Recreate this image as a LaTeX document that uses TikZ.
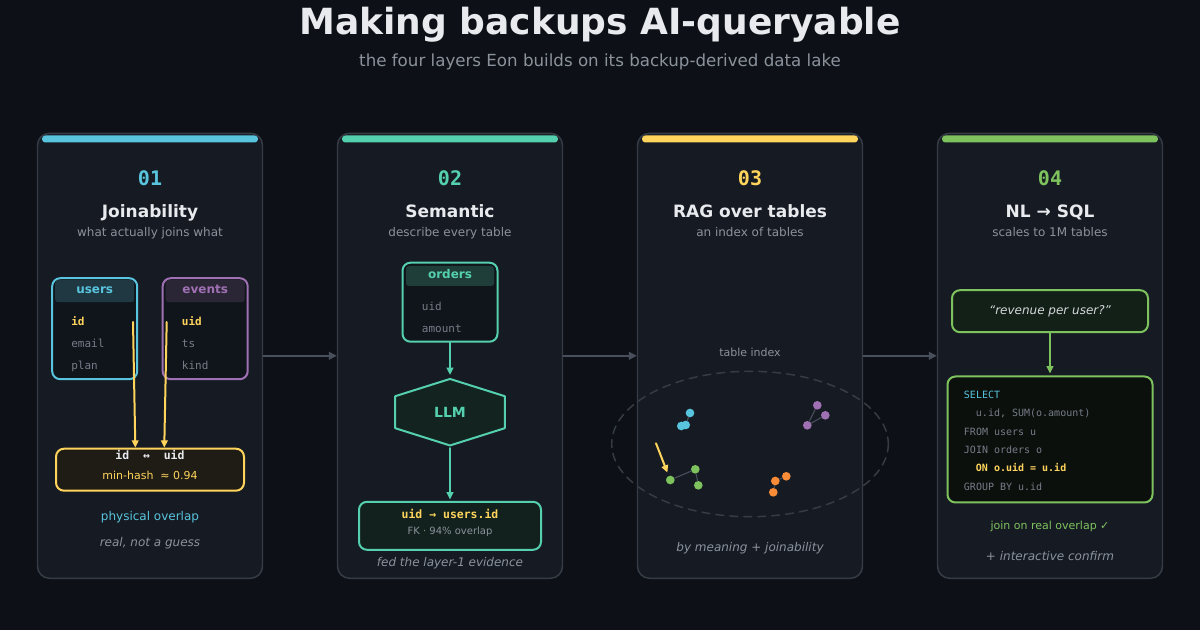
\documentclass[tikz,border=0pt]{standalone}
\usepackage{fontspec}
\setmainfont{DejaVu Sans}
\setmonofont{DejaVu Sans Mono}
\usetikzlibrary{arrows.meta}
\definecolor{bgdark}{RGB}{13,17,23}
\definecolor{panelbg}{RGB}{22,27,35}
\definecolor{panelline}{RGB}{54,60,70}
\definecolor{tablebg}{RGB}{16,21,28}
\definecolor{titlec}{RGB}{232,234,237}
\definecolor{greyc}{RGB}{139,146,156}
\definecolor{dimc}{RGB}{118,125,136}
\definecolor{arrowc}{RGB}{72,79,91}
\definecolor{cyanc}{RGB}{88,196,221}
\definecolor{tealc}{RGB}{84,208,174}
\definecolor{yellowc}{RGB}{255,212,92}
\definecolor{greenc}{RGB}{126,194,94}
\definecolor{purplec}{RGB}{160,112,180}
\definecolor{orangec}{RGB}{250,140,55}
\definecolor{userhead}{RGB}{31,56,66}
\definecolor{eventhead}{RGB}{43,38,54}
\definecolor{orderhead}{RGB}{31,62,58}
\definecolor{matchbg}{RGB}{31,28,21}
\definecolor{llmbg}{RGB}{19,36,32}
\definecolor{fkbg}{RGB}{18,33,29}
\definecolor{askbg}{RGB}{18,32,24}
\definecolor{sqlbg}{RGB}{11,16,13}

\begin{document}
\begin{tikzpicture}[x=0.75pt,y=-0.75pt,line cap=round,line join=round,
  wh/.style 2 args={minimum width=#1*0.75pt,minimum height=#2*0.75pt,inner sep=0pt},
  panel/.style={draw=panelline,fill=panelbg,line width=1.1pt,rounded corners=9pt,wh={225}{445}},
  topbar/.style={fill=#1,rounded corners=2.5pt,wh={216}{7}},
  txt/.style={anchor=base,inner sep=0pt},
  num/.style={txt,font=\ttfamily\bfseries\fontsize{15}{18}\selectfont,text=#1},
  ptitle/.style={txt,font=\bfseries\fontsize{12.75}{15}\selectfont,text=titlec},
  psub/.style={txt,font=\fontsize{9}{11}\selectfont,text=greyc},
  tbl/.style={draw=#1,line width=1.5pt,rounded corners=6pt},
  thead/.style={rounded corners=2pt,wh={79}{22}},
  hlabel/.style={txt,font=\bfseries\fontsize{9}{11}\selectfont,text=#1},
  field/.style={font=\ttfamily\fontsize{8.25}{10}\selectfont,text=dimc,anchor=base west,inner sep=0pt},
  keyfield/.style={field,font=\ttfamily\bfseries\fontsize{8.25}{10}\selectfont,text=yellowc},
  code/.style={font=\ttfamily\fontsize{7.5}{9}\selectfont,text=dimc,anchor=base west,inner sep=0pt},
  link/.style={-{Triangle[length=5.5pt,width=5pt]},line width=1.5pt,draw=#1},
  flow/.style={-{Triangle[length=6pt,width=6pt]},line width=1.1pt,draw=arrowc},
  note/.style={txt,font=\itshape\fontsize{9}{11}\selectfont,text=greyc},
  tdot/.style={circle,fill=#1,inner sep=0pt,minimum size=6.5pt},
  tie/.style={draw=arrowc,line width=0.8pt}]
\useasboundingbox (0,0) rectangle (1200,630);
\fill[bgdark] (0,0) rectangle (1200,630);
\node[txt,font=\bfseries\fontsize{27}{32}\selectfont,text=titlec] (title) at (600,35) {Making backups AI-queryable};
\node[txt,font=\fontsize{12.5}{15}\selectfont,text=greyc] (subtitle) at (600,67) {the four layers Eon builds on its backup-derived data lake};
\begin{scope}[shift={(150,0)}]
\node[panel] (p1) at (0,355.8) {};
\node[topbar=cyanc] (bar1) at (0,139) {};
\node[num=cyanc] (n1) at (0,185.7) {01};
\node[ptitle] (t1) at (0,217.3) {Joinability};
\node[psub] (s1) at (0,236.7) {what actually joins what};
\node[tbl=cyanc,fill=tablebg,wh={85}{101}] (users) at (-55.3,328.7) {};
\node[thead,fill=userhead] (usershead) at (-55.3,291.2) {};
\node[hlabel=cyanc] (userslabel) at (-55.3,294) {users};
\node[keyfield] (uid1) at (-79,326) {id};
\node[field] (uemail) at (-79,348) {email};
\node[field] (uplan) at (-79,370) {plan};
\node[tbl=purplec,fill=tablebg,wh={85}{101}] (events) at (55.2,328.7) {};
\node[thead,fill=eventhead] (eventshead) at (55.2,291.2) {};
\node[hlabel=purplec] (eventslabel) at (55.2,294) {events};
\node[keyfield] (euid) at (31.7,326) {uid};
\node[field] (ets) at (31.7,348) {ts};
\node[field] (ekind) at (31.7,370) {kind};
\node[tbl=yellowc,fill=matchbg,wh={188}{42}] (match) at (0,469.7) {};
\node[txt,font=\ttfamily\bfseries\fontsize{8.6}{10}\selectfont,text=titlec] (pair) at (0,460) {id~~↔~~uid};
\node[txt,font=\fontsize{8.25}{10}\selectfont,text=yellowc] (hash) at (0,480) {min-hash~~≈ 0.94};
\coordinate (idout) at (-17,322);
\coordinate (uidout) at (16.7,322);
\draw[link=yellowc] (idout) -- ([xshift=-11pt]match.north);
\draw[link=yellowc] (uidout) -- ([xshift=10.7pt]match.north);
\node[txt,font=\fontsize{9}{11}\selectfont,text=cyanc] (phys) at (0,521) {physical overlap};
\node[note] (guess) at (0,546.7) {real, not a guess};
\end{scope}
\begin{scope}[shift={(450,0)}]
\node[panel] (p2) at (0,355.8) {};
\node[topbar=tealc] (bar2) at (0,139) {};
\node[num=tealc] (n2) at (0,185.7) {02};
\node[ptitle] (t2) at (0,217.3) {Semantic};
\node[psub] (s2) at (0,236.7) {describe every table};
\node[tbl=tealc,fill=tablebg,wh={95}{79}] (orders) at (0,302.2) {};
\node[thead,fill=orderhead,wh={88}{20}] (ordershead) at (0,276) {};
\node[hlabel=tealc] (orderslabel) at (0,278.3) {orders};
\node[field] (ouid) at (-28.3,310.3) {uid};
\node[field] (oamount) at (-28.3,332.3) {amount};
\node[wh={109}{66}] (llm) at (0,412.2) {};
\filldraw[fill=llmbg,draw=tealc,line width=1.5pt] (llm.north) -- ([yshift=12pt]llm.east) -- ([yshift=-12pt]llm.east)
  -- (llm.south) -- ([yshift=-12pt]llm.west) -- ([yshift=12pt]llm.west) -- cycle;
\node[font=\bfseries\fontsize{10.5}{12}\selectfont,text=tealc] (llmlabel) at (llm) {LLM};
\node[tbl=tealc,fill=fkbg,wh={182}{48}] (fk) at (0,525.8) {};
\node[txt,font=\ttfamily\bfseries\fontsize{8.6}{10}\selectfont,text=yellowc] (fkcol) at (0,518.5) {uid → users.id};
\node[txt,font=\fontsize{7.5}{9}\selectfont,text=greyc] (fkinfo) at (0,535) {FK · 94\% overlap};
\draw[link=tealc,shorten >=3pt] (orders.south) -- (llm.north);
\draw[link=tealc,shorten <=2pt,shorten >=1pt] (llm.south) -- (fk.north);
\node[note] (fed) at (0,566.5) {fed the layer-1 evidence};
\end{scope}
\begin{scope}[shift={(750,0)}]
\node[panel] (p3) at (0,355.8) {};
\node[topbar=yellowc] (bar3) at (0,139) {};
\node[num=yellowc] (n3) at (0,185.7) {03};
\node[ptitle] (t3) at (0,217.3) {RAG over tables};
\node[psub] (s3) at (0,236.7) {an index of tables};
\node[txt,font=\fontsize{8.25}{10}\selectfont,text=greyc] (idxlabel) at (0,357) {table index};
\draw[draw=panelline,line width=1.1pt,dash pattern=on 6pt off 4.5pt] (0,444) ellipse [x radius=138.3,y radius=72.7];
\node[tdot=cyanc] (c1) at (-60,413) {};
\node[tdot=cyanc] (c2) at (-64.3,425) {};
\node[tdot=cyanc] (c3) at (-68.7,426) {};
\node[tdot=purplec] (u1) at (67.3,405.3) {};
\node[tdot=purplec] (u2) at (75.3,415.3) {};
\node[tdot=purplec] (u3) at (57.3,425.3) {};
\node[tdot=greenc] (g1) at (-79.7,480) {};
\node[tdot=greenc] (g2) at (-54.7,469.3) {};
\node[tdot=greenc] (g3) at (-51.7,485.3) {};
\node[tdot=orangec] (o1) at (25.3,481) {};
\node[tdot=orangec] (o2) at (36.3,476.3) {};
\node[tdot=orangec] (o3) at (23.3,492.3) {};
\draw[tie] (c1) -- (c2);
\draw[tie] (u3) -- (u1);
\draw[tie] (u3) -- (u2);
\draw[tie] (g1) -- (g2);
\draw[tie] (g2) -- (g3);
\draw[tie] (o1) -- (o2);
\draw[tie] (o1) -- (o3);
\coordinate (query) at (-94,443.3);
\draw[link=yellowc,shorten >=2.5pt] (query) -- (g1);
\node[note] (meaning) at (0,551.5) {by meaning + joinability};
\end{scope}
\begin{scope}[shift={(1050,0)}]
\node[panel] (p4) at (0,355.8) {};
\node[topbar=greenc] (bar4) at (0,139) {};
\node[num=greenc] (n4) at (0,185.7) {04};
\node[ptitle] (t4) at (0,217.3) {NL → SQL};
\node[psub] (s4) at (0,236.7) {scales to 1M tables};
\node[tbl=greenc,fill=askbg,wh={196}{42},font=\itshape\fontsize{9}{11}\selectfont,text=titlec!92!black] (ask) at (0,311.2) {“revenue per user?”};
\node[tbl=greenc,fill=sqlbg,wh={205}{126}] (sql) at (0,439.5) {};
\draw[link=greenc,shorten >=1.5pt] (ask.south) -- (sql.north);
\node[code,text=cyanc] (q1) at (-86.3,398.5) {SELECT};
\node[code] (q2) at (-74.3,416.8) {u.id, SUM(o.amount)};
\node[code] (q3) at (-86.3,435.2) {FROM users u};
\node[code] (q4) at (-86.3,453.5) {JOIN orders o};
\node[code,font=\ttfamily\bfseries\fontsize{7.5}{9}\selectfont,text=yellowc] (q5) at (-74.3,471.8) {ON o.uid = u.id};
\node[code] (q6) at (-86.3,490.2) {GROUP BY u.id};
\node[txt,font=\fontsize{8.25}{10}\selectfont,text=greenc] (real) at (0,529.8) {join on real overlap ✓};
\node[note] (confirm) at (0,561) {+ interactive confirm};
\end{scope}
\draw[flow] (p1.east) -- (p2.west);
\draw[flow] (p2.east) -- (p3.west);
\draw[flow] (p3.east) -- (p4.west);
\end{tikzpicture}
\end{document}
